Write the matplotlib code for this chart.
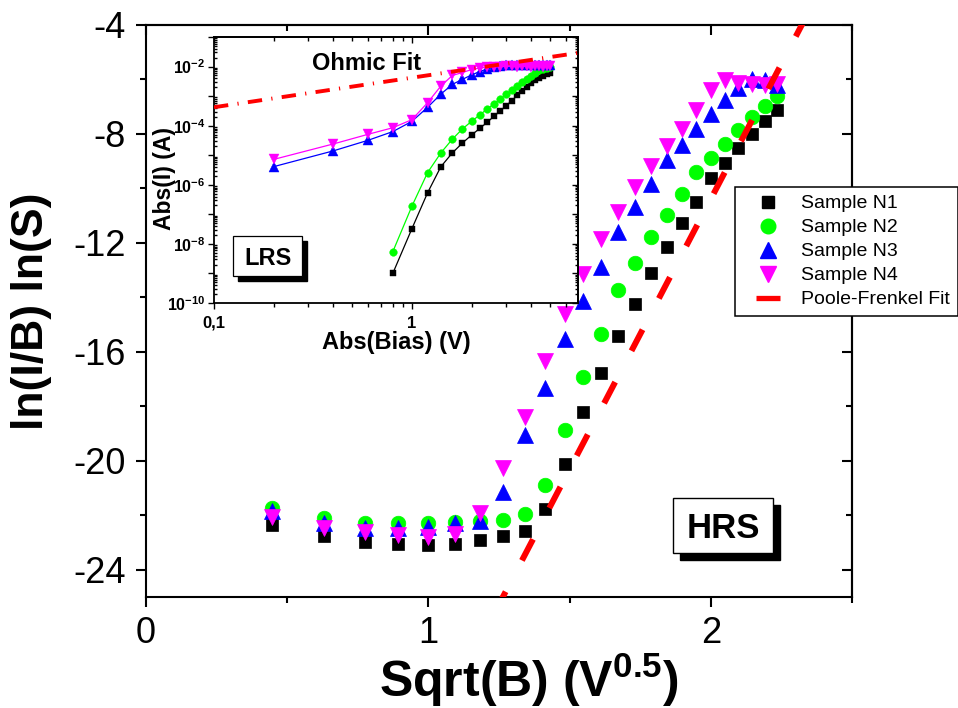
import numpy as np
import matplotlib
matplotlib.use("Agg")
import matplotlib.pyplot as plt
from matplotlib.patches import Rectangle
from matplotlib.lines import Line2D
from matplotlib.ticker import (FixedLocator, FuncFormatter, LogLocator,
                               NullFormatter, FixedFormatter)

plt.rcParams['font.family'] = ['Liberation Sans', 'DejaVu Sans']
plt.rcParams['mathtext.fontset'] = 'custom'
plt.rcParams['mathtext.rm'] = 'Liberation Sans'
plt.rcParams['mathtext.bf'] = 'Liberation Sans:bold'
plt.rcParams['mathtext.it'] = 'Liberation Sans:italic'
plt.rcParams['axes.unicode_minus'] = False

# ---------------- data ----------------
# applied bias (V) and its square root (V^0.5)
bias_v = [0.2, 0.4, 0.6, 0.8, 1.0, 1.2, 1.4, 1.6, 1.8, 2.0, 2.2, 2.4, 2.6,
          2.8, 3.0, 3.2, 3.4, 3.6, 3.8, 4.0, 4.2, 4.4, 4.6, 4.8, 5.0]
sqrt_bias = [0.447, 0.632, 0.775, 0.894, 1.000, 1.095, 1.183, 1.265, 1.342,
             1.414, 1.483, 1.549, 1.612, 1.673, 1.732, 1.789, 1.844, 1.897,
             1.949, 2.000, 2.049, 2.098, 2.145, 2.191, 2.236]

# HRS: ln(I/B) versus sqrt(B)
hrs_n1 = [-22.35, -22.76, -22.97, -23.07, -23.09, -23.07, -22.90, -22.75,
          -22.56, -21.77, -20.12, -18.22, -16.77, -15.42, -14.23, -13.11,
          -12.16, -11.28, -10.51, -9.62, -9.07, -8.51, -8.01, -7.52, -7.13]
hrs_n2 = [-21.74, -22.11, -22.29, -22.29, -22.29, -22.26, -22.20, -22.19,
          -21.96, -20.88, -18.88, -16.92, -15.35, -13.74, -12.72, -11.77,
          -10.96, -10.22, -9.41, -8.87, -8.36, -7.87, -7.38, -6.98, -6.62]
hrs_n3 = [-21.86, -22.29, -22.45, -22.48, -22.42, -22.29, -22.20, -21.13,
          -19.06, -17.32, -15.54, -14.13, -12.90, -11.61, -10.69, -9.83,
          -8.97, -8.42, -7.81, -7.28, -6.74, -6.33, -6.00, -6.03, -6.21]
hrs_n4 = [-22.05, -22.48, -22.62, -22.72, -22.78, -22.70, -21.92, -20.27,
          -18.40, -16.34, -14.62, -13.15, -11.86, -10.88, -9.96, -9.16,
          -8.46, -7.81, -7.11, -6.39, -6.03, -6.12, -6.17, -6.20, -6.17]

# Poole-Frenkel fit: ln(I/B) = pf_intercept + pf_slope * sqrt(B)
pf_slope = 19.84
pf_intercept = -50.07
pf_x = [1.20, 2.40]

# LRS: |I| (A) versus |bias| (V)
nan = float('nan')
lrs_n1 = [nan, nan, nan, 1.0e-9, 3.3e-8, 5.4e-7, 4.1e-6, 1.2e-5, 2.6e-5,
          4.8e-5, 8.1e-5, 1.3e-4, 2.1e-4, 3.2e-4, 4.8e-4, 7.1e-4, 1.05e-3,
          1.5e-3, 2.1e-3, 2.75e-3, 3.5e-3, 4.2e-3, 4.8e-3, 5.4e-3, 6.0e-3]
lrs_n2 = [nan, nan, nan, 5.4e-9, 1.9e-7, 2.6e-6, 1.2e-5, 3.5e-5, 7.8e-5,
          1.4e-4, 2.3e-4, 3.7e-4, 5.5e-4, 8.1e-4, 1.17e-3, 1.6e-3, 2.2e-3,
          2.95e-3, 3.7e-3, 4.9e-3, 6.0e-3, 7.4e-3, 8.3e-3, 9.0e-3, 9.5e-3]
lrs_n3 = [4.1e-6, 1.4e-5, 3.2e-5, 6.3e-5, 1.4e-4, 4.2e-4, 1.17e-3, 2.5e-3,
          3.7e-3, 5.2e-3, 6.8e-3, 8.3e-3, 9.5e-3, 1.08e-2, 1.12e-2, 1.12e-2,
          1.11e-2, 1.12e-2, 1.12e-2, 1.11e-2, 1.12e-2, 1.12e-2, 1.11e-2,
          1.12e-2, 1.12e-2]
lrs_n4 = [7.2e-6, 2.4e-5, 5.1e-5, 8.5e-5, 1.6e-4, 6.0e-4, 2.2e-3, 5.0e-3,
          6.3e-3, 7.9e-3, 8.9e-3, 9.5e-3, 1.0e-2, 1.0e-2, 1.02e-2, 1.02e-2,
          1.0e-2, 1.02e-2, 1.02e-2, 1.0e-2, 1.02e-2, 1.02e-2, 1.0e-2,
          1.02e-2, 1.02e-2]

# Ohmic fit: I = ohmic_g * V
ohmic_g = 4.2e-3
ohmic_v = [0.1, 7.0]

labels = ['Sample N1', 'Sample N2', 'Sample N3', 'Sample N4',
          'Poole-Frenkel Fit']
colors = ['#000000', '#00FF00', '#0000FF', '#FF00FF']
markers = ['s', 'o', '^', 'v']

# ---------------- figure ----------------
W, H = 958, 708
fig = plt.figure(figsize=(W / 100, H / 100), dpi=100)


def fx(px):
    return px / W


def fy(py):
    return 1 - py / H


ax = fig.add_axes([fx(146), fy(597), fx(852) - fx(146), fy(25) - fy(597)])
ax.set_xlim(0, 2.5)
ax.set_ylim(-25, -4)

main_ms = [9, 10.5, 11, 11]
for ys, c, m, ms in zip([hrs_n1, hrs_n2, hrs_n3, hrs_n4], colors, markers, main_ms):
    ax.plot(sqrt_bias, ys, ls='none', marker=m, ms=ms, color=c,
            mec=c, mew=0.5, zorder=3)

pf_y = [pf_intercept + pf_slope * x for x in pf_x]
ax.plot(pf_x, pf_y, color='#FF0000', lw=4.3, ls=(6.4, (4.0, 5.9)),
        solid_capstyle='butt', dash_capstyle='butt', zorder=4)

for s in ax.spines.values():
    s.set_linewidth(1.5)
ax.xaxis.set_major_locator(FixedLocator([0, 1, 2]))
ax.xaxis.set_minor_locator(FixedLocator([0.5, 1.5, 2.5]))
ax.yaxis.set_major_locator(FixedLocator([-24, -20, -16, -12, -8, -4]))
ax.yaxis.set_minor_locator(FixedLocator([-22, -18, -14, -10, -6]))
ax.tick_params(which='both', direction='out', width=1.5, labelsize=26,
               top=False, right=False)
ax.tick_params(which='major', length=7.5)
ax.tick_params(which='minor', length=4.5)
ax.tick_params(axis='y', pad=7)
ax.tick_params(axis='x', pad=6)

# inward ticks on the opposite spines
sx = ax.secondary_xaxis('top')
sx.xaxis.set_major_locator(FixedLocator([0, 1, 2]))
sx.xaxis.set_minor_locator(FixedLocator([0.5, 1.5, 2.5]))
sx.tick_params(which='both', direction='in', width=1.5, labeltop=False)
sx.tick_params(which='major', length=7.5)
sx.tick_params(which='minor', length=4.5)
sy = ax.secondary_yaxis('right')
sy.yaxis.set_major_locator(FixedLocator([-24, -20, -16, -12, -8, -4]))
sy.yaxis.set_minor_locator(FixedLocator([-22, -18, -14, -10, -6]))
sy.tick_params(which='both', direction='in', width=1.5, labelright=False)
sy.tick_params(which='major', length=7.5)
sy.tick_params(which='minor', length=4.5)
for s in list(sx.spines.values()) + list(sy.spines.values()):
    s.set_linewidth(1.5)

fig.text(fx(32), fy(311), 'ln(I/B) ln(S)', rotation=90, ha='center',
         va='center', fontsize=32, fontweight='bold')
fig.text(fx(529), fy(680), r'$\mathbf{Sqrt(B)\ (V^{0.5})}$', ha='center',
         va='center', fontsize=36)

# HRS tag with drop shadow
bx, by, bw, bh = (673 - 146) / 706, (597 - 553) / 572, 100 / 706, 55 / 572
ax.add_patch(Rectangle((bx + 7 / 706, by - 7 / 572), bw, bh,
                       transform=ax.transAxes, facecolor='black',
                       edgecolor='black', zorder=6))
ax.add_patch(Rectangle((bx, by), bw, bh, transform=ax.transAxes,
                       facecolor='white', edgecolor='black', lw=1.0, zorder=7))
ax.text(bx + bw / 2, by + bh / 2, 'HRS', transform=ax.transAxes,
        ha='center', va='center_baseline', fontsize=25, fontweight='bold',
        zorder=8)

# legend
handles = [Line2D([], [], ls='none', marker=m, color=c, mec=c, ms=ms)
           for c, m, ms in zip(colors, markers, main_ms)]
handles.append(Line2D([], [], ls='none', marker='_', color='#FF0000',
                      ms=17, mew=3.8))
leg = fig.legend(handles, labels, loc='upper left',
                 bbox_to_anchor=(fx(735), fy(187)),
                 bbox_transform=fig.transFigure, frameon=True,
                 fancybox=False, edgecolor='black', framealpha=1,
                 fontsize=14, borderpad=0.4, labelspacing=0.33,
                 handlelength=2.6, handletextpad=0.4, borderaxespad=0,
                 numpoints=1)
leg.get_frame().set_linewidth(1.1)

# ---------------- inset: LRS ----------------
axi = fig.add_axes([fx(214), fy(303), fx(578) - fx(214), fy(37) - fy(303)])
axi.set_zorder(10)
axi.set_facecolor('white')
axi.set_xscale('log')
axi.set_yscale('log')
axi.set_xlim(0.1, 6.9)
axi.set_ylim(1e-10, 1e-1)

ins_ms = [4.5, 5.5, 6.5, 6.5]
for ys, c, m, ms in zip([lrs_n1, lrs_n2, lrs_n3, lrs_n4], colors, markers, ins_ms):
    axi.plot(bias_v, ys, ls='-', lw=0.9, marker=m, ms=ms, color=c,
             mec=c, mew=0.3, zorder=3)

axi.plot(ohmic_v, [ohmic_g * v for v in ohmic_v], color='#FF0000', lw=2.8,
         ls=(0, (3.7, 2.4, 0.3, 2.4)), dash_capstyle='butt', zorder=4)

for s in axi.spines.values():
    s.set_linewidth(1.3)

axi.xaxis.set_major_locator(FixedLocator([0.1, 1]))
axi.xaxis.set_major_formatter(FixedFormatter(['0,1', '1']))
axi.xaxis.set_minor_locator(LogLocator(base=10, subs=np.arange(2, 10), numticks=100))
axi.xaxis.set_minor_formatter(NullFormatter())
axi.yaxis.set_major_locator(LogLocator(base=10, numticks=100))
axi.yaxis.set_minor_locator(LogLocator(base=10, subs=np.arange(2, 10), numticks=100))
axi.yaxis.set_minor_formatter(NullFormatter())


def dec_label(v, pos):
    e = int(round(np.log10(v)))
    if e % 2:
        return ''
    return r'$\mathbf{10^{%d}}$' % e


axi.yaxis.set_major_formatter(FuncFormatter(dec_label))
axi.tick_params(which='both', width=1.0, top=False, right=False)
axi.tick_params(axis='x', which='both', direction='out', labelsize=12, pad=5)
axi.tick_params(axis='x', which='major', length=4)
axi.tick_params(axis='x', which='minor', length=3)
axi.tick_params(axis='y', which='major', direction='out', length=4,
                labelsize=11.5, pad=2)
axi.tick_params(axis='y', which='minor', direction='in', length=2.5)
for t in axi.get_xticklabels():
    t.set_fontweight('bold')

six = axi.secondary_xaxis('top')
six.xaxis.set_major_locator(FixedLocator([0.1, 1]))
six.xaxis.set_minor_locator(LogLocator(base=10, subs=np.arange(2, 10), numticks=100))
six.xaxis.set_minor_formatter(NullFormatter())
six.tick_params(which='both', direction='in', width=1.0, labeltop=False)
six.tick_params(which='major', length=4)
six.tick_params(which='minor', length=3)
siy = axi.secondary_yaxis('right')
siy.yaxis.set_major_locator(LogLocator(base=10, numticks=100))
siy.yaxis.set_minor_locator(LogLocator(base=10, subs=np.arange(2, 10), numticks=100))
siy.yaxis.set_minor_formatter(NullFormatter())
siy.tick_params(which='both', direction='in', width=1.0, labelright=False)
siy.tick_params(which='major', length=4)
siy.tick_params(which='minor', length=2.5)
for s in list(six.spines.values()) + list(siy.spines.values()):
    s.set_linewidth(1.3)

axi.text((367 - 214) / 364, (303 - 64) / 266, 'Ohmic Fit', transform=axi.transAxes,
         ha='center', va='center', fontsize=17, fontweight='bold', zorder=6)
fig.text(fx(396), fy(342), 'Abs(Bias) (V)', ha='center', va='center',
         fontsize=17, fontweight='bold', zorder=12)
fig.text(fx(165), fy(178), 'Abs(I) (A)', rotation=90, ha='center',
         va='center', fontsize=16.5, fontweight='bold', zorder=12)

# LRS tag with drop shadow
lx, ly, lw_, lh = (233 - 214) / 364, (303 - 276) / 266, 69 / 364, 40 / 266
axi.add_patch(Rectangle((lx + 5 / 364, ly - 5 / 266), lw_, lh,
                        transform=axi.transAxes, facecolor='black',
                        edgecolor='black', zorder=6))
axi.add_patch(Rectangle((lx, ly), lw_, lh, transform=axi.transAxes,
                        facecolor='white', edgecolor='black', lw=0.9, zorder=7))
axi.text(lx + lw_ / 2, ly + lh / 2, 'LRS', transform=axi.transAxes,
         ha='center', va='center_baseline', fontsize=17, fontweight='bold',
         zorder=8)

fig.savefig('out.png', dpi=100)
